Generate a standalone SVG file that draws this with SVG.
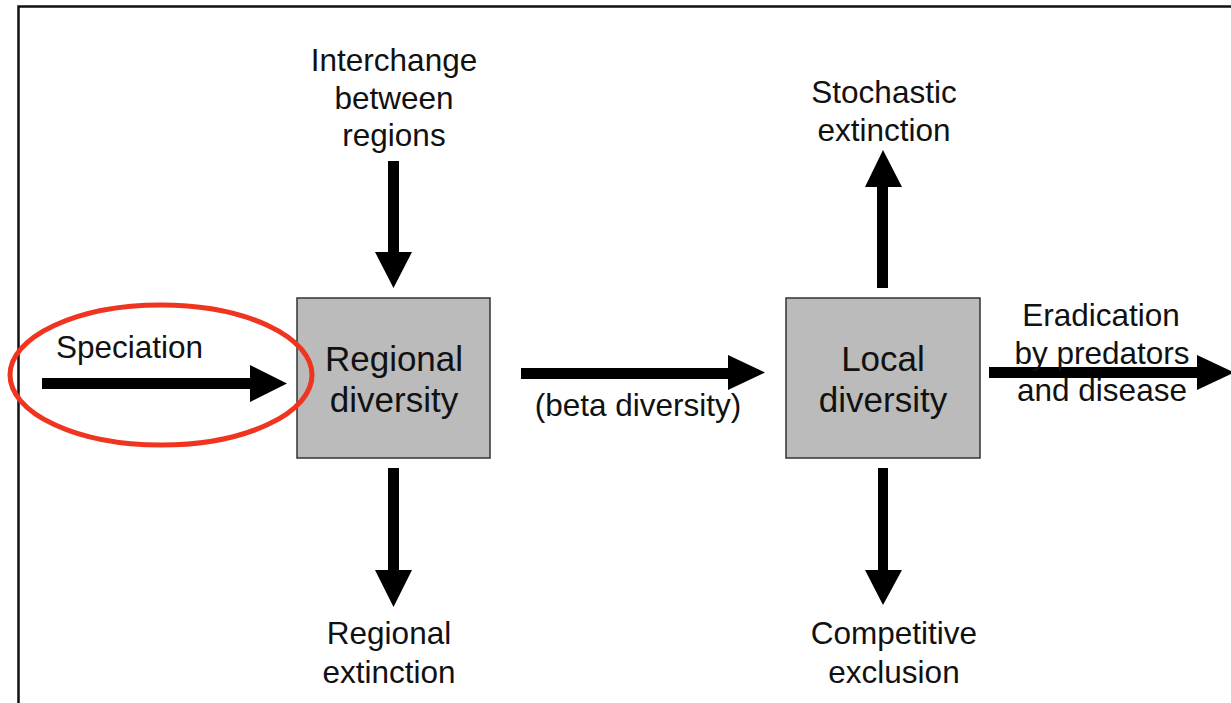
<svg xmlns="http://www.w3.org/2000/svg" width="1231" height="703" viewBox="0 0 1231 703">
<style>
.lbl{font-family:"Liberation Sans",Arial,sans-serif;font-size:31.5px;fill:#111;text-anchor:middle}
.box{fill:#bbbbbb;stroke:#333;stroke-width:1.5}
.boxt{font-family:"Liberation Sans",Arial,sans-serif;font-size:35px;fill:#111;text-anchor:middle}
.arr{fill:#000}
</style>
<rect width="1231" height="703" fill="#fff"/>
<path d="M18.5 703 V6.5 H1231" fill="none" stroke="#111" stroke-width="2.5"/>
<g id="connectors">
<polygon class="arr" points="42,378 250,378 250,365 287,383.5 250,402 250,389 42,389"/>
<polygon class="arr" points="388,161 399,161 399,252 412,252 393.5,288 375,252 388,252"/>
<polygon class="arr" points="388,468 399,468 399,570 412,570 393.5,607 375,570 388,570"/>
<polygon class="arr" points="521,368 728,368 728,355 765,372.5 728,390 728,379 521,379"/>
<polygon class="arr" points="877,288 888,288 888,187 902,187 883,150 865,187 877,187"/>
<polygon class="arr" points="878,468 888,468 888,570 902,570 883,605 865,570 878,570"/>
<polygon class="arr" points="989,367 1197,367 1197,355 1234,372.5 1197,390 1197,378 989,378"/>
</g>
<g id="regional">
<rect class="box" x="297" y="298" width="193" height="160"/>
<text class="boxt" x="394" y="371">Regional</text>
<text class="boxt" x="394" y="412">diversity</text>
</g>
<g id="local">
<rect class="box" x="786" y="298" width="194" height="160"/>
<text class="boxt" x="883" y="371">Local</text>
<text class="boxt" x="883" y="412">diversity</text>
</g>
<g id="interchange">
<text class="lbl" x="394" y="71">Interchange</text>
<text class="lbl" x="394" y="109">between</text>
<text class="lbl" x="394" y="146">regions</text>
</g>
<g id="stochastic">
<text class="lbl" x="884" y="103">Stochastic</text>
<text class="lbl" x="884" y="141">extinction</text>
</g>
<g id="speciation">
<text class="lbl" x="56" y="358" style="text-anchor:start">Speciation</text>
</g>
<g id="beta">
<text class="lbl" x="638" y="416">(beta diversity)</text>
</g>
<g id="eradication">
<text class="lbl" x="1101" y="326">Eradication</text>
<text class="lbl" x="1102" y="364">by predators</text>
<text class="lbl" x="1102" y="401">and disease</text>
</g>
<g id="regional-extinction">
<text class="lbl" x="389" y="644">Regional</text>
<text class="lbl" x="389" y="683">extinction</text>
</g>
<g id="competitive">
<text class="lbl" x="894" y="644">Competitive</text>
<text class="lbl" x="894" y="683">exclusion</text>
</g>
<g id="highlight">
<ellipse cx="161" cy="375" rx="151" ry="70" fill="none" stroke="#ef3420" stroke-width="5"/>
</g>
</svg>
